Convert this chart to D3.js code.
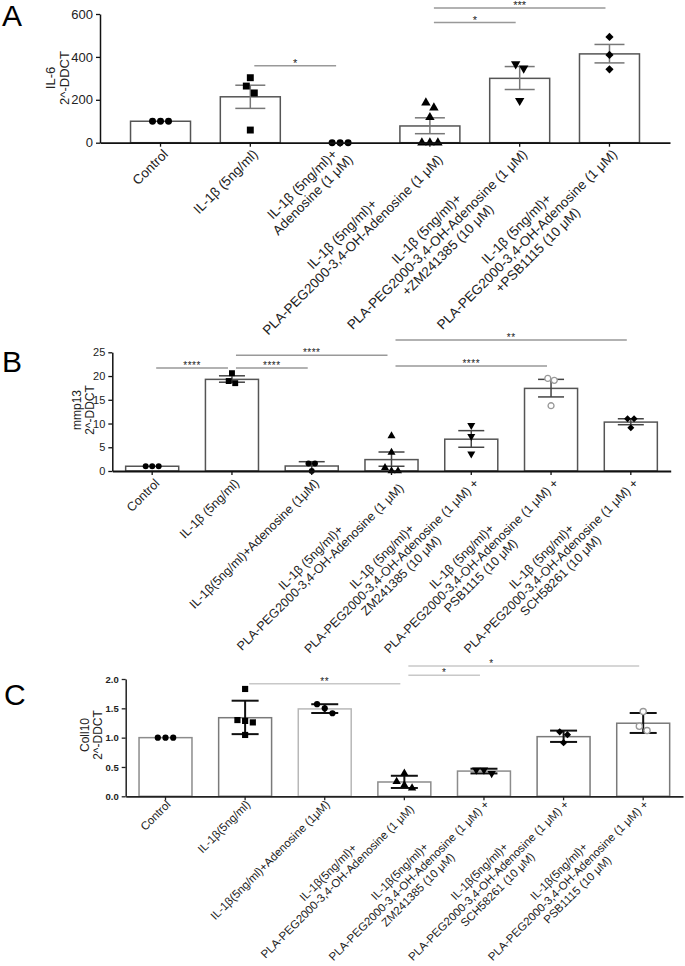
<!DOCTYPE html>
<html><head><meta charset="utf-8">
<script src="https://cdnjs.cloudflare.com/ajax/libs/d3/7.8.5/d3.min.js"></script>
<style>body{margin:0;background:#fff} svg{display:block} text{font-family:Arial,"Liberation Sans",Helvetica,sans-serif}</style>
</head><body><svg id="c" width="685" height="966"></svg>
<script>
// ---------- Panel A : IL-6 ----------
const catsA = [["Control"],["IL-1β (5ng/ml)"],["IL-1β (5ng/ml)+","Adenosine (1 μM)"],
  ["IL-1β (5ng/ml)+","PLA-PEG2000-3,4-OH-Adenosine (1 μM)"],
  ["IL-1β (5ng/ml)+","PLA-PEG2000-3,4-OH-Adenosine (1 μM)","+ZM241385 (10 μM)"],
  ["IL-1β (5ng/ml)+","PLA-PEG2000-3,4-OH-Adenosine (1 μM)","+PSB1115 (10 μM)"]];
const meanA = [100, 214, 0, 78, 300, 414];
const errLoA = [100, 160, 0, 42, 248, 372];
const errHiA = [100, 268, 0, 116, 355, 458];
const ptsA = [[100,100,100],[303,264,232,59],[0,0,0],[186,163,118,0,0,0],[367,347,196],[493,409,342]];
const symA = ["circle","square","circle","triangle","triangleDown","diamond"];
const ticksA = [0,200,400,600];
const sigA = [[1,2,359,"*"],[3,4,560,"*"],[3,5,628,"***"]];

// ---------- Panel B : mmp13 ----------
const catsB = [["Control"],["IL-1β (5ng/ml)"],["IL-1β(5ng/ml)+Adenosine (1μM)"],
  ["IL-1β (5ng/ml)+","PLA-PEG2000-3,4-OH-Adenosine (1 μM)"],
  ["IL-1β (5ng/ml)+","PLA-PEG2000-3,4-OH-Adenosine  (1 μM) +","ZM241385 (10 μM)"],
  ["IL-1β (5ng/ml)+","PLA-PEG2000-3,4-OH-Adenosine  (1 μM) +","PSB1115 (10 μM)"],
  ["IL-1β (5ng/ml)+","PLA-PEG2000-3,4-OH-Adenosine  (1 μM) +","SCH58261 (10 μM)"]];
const meanB = [1.0, 19.3, 1.05, 2.4, 6.7, 17.4, 10.3];
const errLoB = [1.0, 18.7, 0.0, 1.0, 5.0, 15.6, 9.75];
const errHiB = [1.0, 20.05, 1.96, 4.0, 8.5, 19.3, 11.0];
const ptsB = [[1,1,1],[20.6,18.95,18.5],[1.6,1.6,0],[7.4,3.9,0.7,0,0],[9.6,7.3,3.6],[19.5,19.1,13.75],[11.0,11.0,9.1]];
const symB = ["circle","square","circle","triangle","triangleDown","open","diamond"];
const ticksB = [0,5,10,15,20,25];
const sigB = [[0,1,21.7,"****"],[1,2,21.7,"****"],[1,3,24.4,"****"],[3,5,22.1,"****"],[3,6,27.6,"**"]];

// ---------- Panel C : Coll10 ----------
const catsC = [["Control"],["IL-1β(5ng/ml)"],["IL-1β(5ng/ml)+Adenosine (1μM)"],
  ["IL-1β(5ng/ml)+","PLA-PEG2000-3,4-OH-Adenosine (1 μM)"],
  ["IL-1β(5ng/ml)+","PLA-PEG2000-3,4-OH-Adenosine (1 μM) +","ZM241385 (10 μM)"],
  ["IL-1β(5ng/ml)+","PLA-PEG2000-3,4-OH-Adenosine (1 μM) +","SCH58261 (10 μM)"],
  ["IL-1β(5ng/ml)+","PLA-PEG2000-3,4-OH-Adenosine (1 μM) +","PSB1115 (10 μM)"]];
const meanC = [1.0, 1.34, 1.49, 0.244, 0.43, 1.017, 1.246];
const errLoC = [1.0, 1.06, 1.42, 0.142, 0.39, 0.927, 1.08];
const errHiC = [1.0, 1.63, 1.57, 0.35, 0.47, 1.12, 1.42];
const ptsC = [[1,1,1],[1.83,1.285,1.26,1.30,1.046],[1.57,1.50,1.416],[0.39,0.25,0.19,0.14],[0.45,0.39,0.45],[1.10,1.05,0.915],[1.444,1.195,1.12]];
const symC = ["circle","square","circle","triangle","triangleDown","diamond","open"];
const ticksC = [0,0.5,1.0,1.5,2.0];
const sigC = [[1,3,1.92,"**",0.5],[3,4,2.065,"*",0.5],[3,6,2.22,"*",0.36]];

const FONT = 'Arial,"Liberation Sans",Helvetica,sans-serif';
const svg = d3.select("#c");

function symPath(type, size){
  if(type==="square") return {d:d3.symbol(d3.symbolSquare,size)(),rot:0};
  if(type==="triangle") return {d:d3.symbol(d3.symbolTriangle,size*0.8)(),rot:0};
  if(type==="triangleDown") return {d:d3.symbol(d3.symbolTriangle,size*0.8)(),rot:180};
  if(type==="diamond") return {d:d3.symbol(d3.symbolSquare,size*0.7)(),rot:45};
  return {d:d3.symbol(d3.symbolCircle,size*0.8)(),rot:0};
}

function swarm(vals, y, s){
  const items = vals.map((v,i)=>({v,i,py:y(v)})).sort((a,b)=>a.py-b.py);
  const out = new Array(vals.length);
  let cl=[];
  const flush=()=>{cl.forEach((it,k)=>{out[it.i]={v:it.v,py:it.py,dx:(k-(cl.length-1)/2)*s};});cl=[];};
  items.forEach(it=>{
    if(cl.length && it.py - cl[cl.length-1].py > s*0.9) flush();
    cl.push(it);
  });
  flush();
  return out;
}

function panel(o){
  const n=o.cats.length;
  const x=d3.scaleBand().domain(d3.range(n)).range([o.x0,o.x1]).paddingInner(o.pi).paddingOuter(o.po);
  const y=d3.scaleLinear().domain([0,o.ymax]).range([o.y0,o.y1]);
  const bw=x.bandwidth();
  const g=svg.append("g");
  g.append("text").attr("x",o.letterX).attr("y",o.letterY).attr("font-size",30).attr("fill","#000").text(o.letter);
  g.selectAll("rect.bar").data(o.mean).join("rect")
    .attr("x",(d,i)=>x(i)).attr("width",bw)
    .attr("y",d=>y(d)).attr("height",d=>o.y0-y(d))
    .attr("fill","#fff").attr("stroke",(d,i)=>o.barStrokes?o.barStrokes[i]:o.barStroke).attr("stroke-width",1.5);
  o.mean.forEach((m,i)=>{
    const lo=o.lo[i], hi=o.hi[i];
    if(hi-lo<=0) return;
    const cx=x(i)+bw/2;
    const eg=g.append("g").attr("stroke",o.errColor).attr("stroke-width",o.errW).attr("fill","none");
    eg.append("line").attr("x1",cx).attr("x2",cx).attr("y1",y(lo)).attr("y2",y(hi));
    [lo,hi].forEach(v=>{ if(y(v)>o.y0-0.5) return; eg.append("line").attr("x1",cx-o.cap/2).attr("x2",cx+o.cap/2).attr("y1",y(v)).attr("y2",y(v));});
  });
  o.pts.forEach((arr,i)=>{
    const cx=x(i)+bw/2;
    const sp=symPath(o.sym[i],o.msize);
    swarm(arr,y,o.ms).forEach(p=>{
      const open=o.sym[i]==="open";
      g.append("path").attr("d",sp.d)
        .attr("transform",`translate(${cx+p.dx},${p.py}) rotate(${sp.rot})`)
        .attr("fill",open?"#fff":"#000").attr("stroke",open?"#999":"none").attr("stroke-width",1.3);
    });
  });
  const ya=d3.axisLeft(y).tickValues(o.ticks).tickSize(4).tickSizeOuter(0).tickFormat(o.fmt);
  const yg=g.append("g").attr("transform",`translate(${o.x0},0)`).call(ya);
  yg.selectAll("text").attr("font-size",o.tickFont).attr("font-weight",o.tickBold?"bold":"normal").attr("fill","#222").attr("font-family",FONT);
  yg.selectAll("line").attr("stroke",o.axisColor).attr("stroke-width",1.3);
  yg.select(".domain").attr("stroke",o.axisColor).attr("stroke-width",1.5);
  const xa=d3.axisBottom(x).tickSize(4).tickSizeOuter(0).tickFormat("");
  const xg=g.append("g").attr("transform",`translate(0,${o.y0})`).call(xa);
  xg.selectAll("line").attr("stroke",o.axisColor).attr("stroke-width",1.3);
  xg.select(".domain").attr("stroke",o.axisColor).attr("stroke-width",1.8);
  o.ylabel.forEach((t,j)=>{
    g.append("text").attr("transform",`translate(${o.ylabelX[j]},${o.ylabelY}) rotate(-90)`)
      .attr("text-anchor","middle").attr("dy","0.35em").attr("font-size",o.ylabelFont).attr("fill","#222").text(t);
  });
  o.cats.forEach((lines,i)=>{
    const lg=g.append("g").attr("transform",`translate(${x(i)+bw/2+o.labelOff[0]},${o.y0+o.labelOff[1]}) rotate(-45)`);
    const ts=lines.map(l=>lg.append("text").attr("font-size",o.labelFont).attr("fill","#222").text(l));
    const W=d3.max(ts,t=>t.node().getComputedTextLength());
    ts.forEach((t,j)=>t.attr("text-anchor","middle").attr("x",-W/2).attr("y",(j-(lines.length-1)/2)*o.lh).attr("dy","0.35em"));
  });
  o.sig.forEach(s=>{
    const xa1=x(s[0])+bw/2+4, xa2=x(s[1])+bw/2-4, yy=y(s[2]);
    g.append("line").attr("x1",xa1).attr("x2",xa2).attr("y1",yy).attr("y2",yy).attr("stroke",o.sigColor).attr("stroke-width",1.5);
    const f=s.length>4?s[4]:0.5;
    g.append("text").attr("x",xa1+(xa2-xa1)*f).attr("y",yy+1).attr("text-anchor","middle")
      .attr("font-size",o.starFont).attr("letter-spacing",o.starSpacing).attr("fill","#222").text(s[3]);
  });
}

panel({cats:catsA,mean:meanA,lo:errLoA,hi:errHiA,pts:ptsA,sym:symA,ticks:ticksA,sig:sigA,
  x0:100,x1:670,pi:0.332,po:0.34,y0:142.7,y1:14,ymax:600,fmt:d3.format("d"),tickFont:13,tickBold:false,
  ylabel:["IL-6","2^-DDCT"],ylabelX:[50,64],ylabelY:78,ylabelFont:13,labelFont:13.5,lh:15,labelOff:[5,9],
  barStroke:"#555",errColor:"#777",errW:1.5,cap:30,sigColor:"#999",ms:8,msize:48,axisColor:"#111",
  letter:"A",letterX:2,letterY:26,starFont:11,starSpacing:0});

panel({cats:catsB,mean:meanB,lo:errLoB,hi:errHiB,pts:ptsB,sym:symB,ticks:ticksB,sig:sigB,
  x0:112.3,x1:670.7,pi:0.335,po:0.1675,y0:471,y1:352.3,ymax:25,fmt:d3.format("d"),tickFont:11,tickBold:false,
  ylabel:["mmp13","2^-DDCT"],ylabelX:[77,90],ylabelY:410,ylabelFont:12,labelFont:12.5,lh:13.5,labelOff:[5,10],
  barStroke:"#555",errColor:"#444",errW:1.5,cap:26,sigColor:"#999",ms:6.5,msize:35,axisColor:"#111",
  letter:"B",letterX:2,letterY:372,starFont:10,starSpacing:0.5});

panel({cats:catsC,mean:meanC,lo:errLoC,hi:errHiC,pts:ptsC,sym:symC,ticks:ticksC,sig:sigC,
  x0:125.7,x1:683,pi:0.335,po:0.1675,y0:796.3,y1:679,ymax:2,fmt:d3.format(".1f"),tickFont:9.5,tickBold:true,
  ylabel:["Coll10","2^-DDCT"],ylabelX:[85,98],ylabelY:735,ylabelFont:12,labelFont:11.5,lh:13,labelOff:[3,6],
  barStroke:"#8c8c8c",barStrokes:["#8c8c8c","#7a7a7a","#b8b8b8","#8c8c8c","#8c8c8c","#7a7a7a","#7a7a7a"],
  errColor:"#111",errW:2,cap:27,sigColor:"#c8c8c8",ms:7.7,msize:38,axisColor:"#222",
  letter:"C",letterX:4,letterY:705,starFont:10,starSpacing:0.5});
</script></body></html>
